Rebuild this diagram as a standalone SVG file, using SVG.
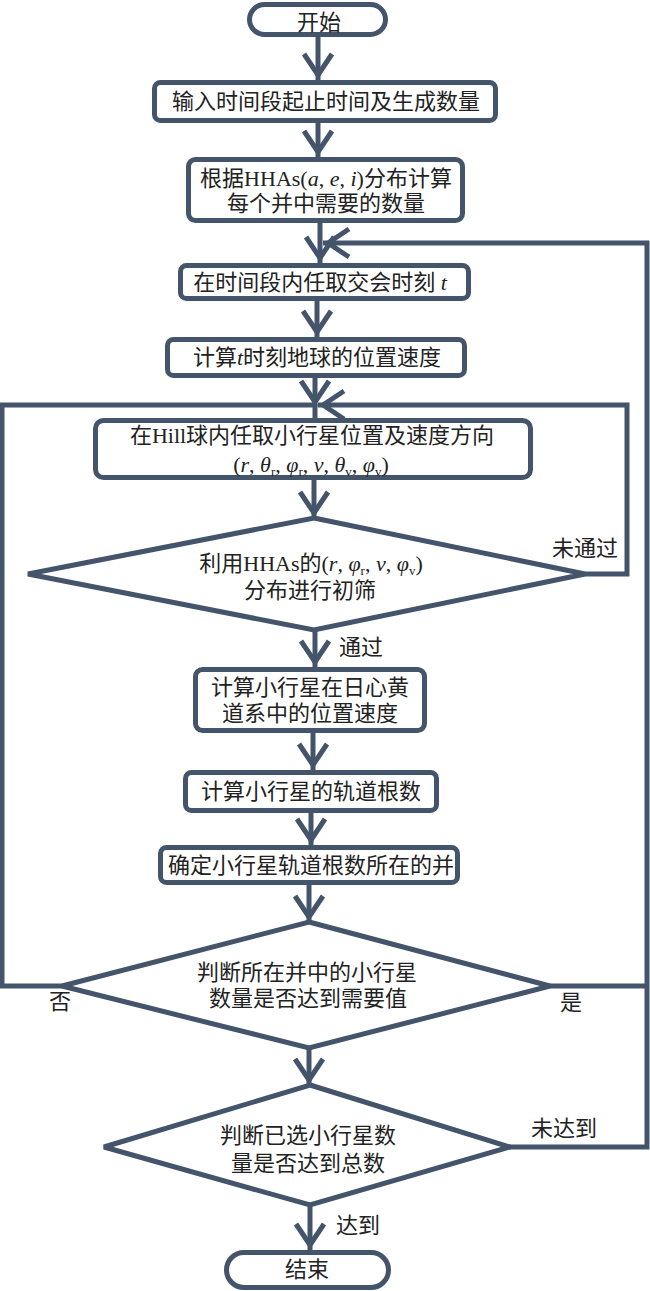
<svg xmlns="http://www.w3.org/2000/svg" width="650" height="1291" viewBox="0 0 650 1291">
<defs>
<style>
.n { fill:#fff; stroke:#44546A; stroke-width:5; }
.d { fill:#fff; stroke:#44546A; stroke-width:5; stroke-linejoin:miter; stroke-miterlimit:3; }
.c { fill:none; stroke:#44546A; stroke-width:5; }
.ca { fill:none; stroke:#44546A; stroke-width:5; marker-end:url(#ah); }
.t { font-family:"Liberation Serif","Noto Sans CJK SC",serif; font-size:22px; font-weight:normal; fill:#222; text-anchor:middle; }
.i { font-style:italic; }
.s { font-size:13px; }
</style>
<marker id="ah" markerUnits="userSpaceOnUse" orient="auto" refX="0" refY="0" markerWidth="40" markerHeight="40" viewBox="-30 -20 40 40" overflow="visible">
<path d="M-26,-14 L-5,0 L-26,14" fill="none" stroke="#44546A" stroke-width="5" stroke-linejoin="miter"/>
</marker>
</defs>
<rect width="650" height="1291" fill="#fff"/>

<g id="connectors">
<path class="ca" d="M318,37 V80"/>
<path class="ca" d="M318,123 V157"/>
<path class="ca" d="M320,223 V263"/>
<path class="ca" d="M510,1147 H647 V243 H323"/>
<path class="c" d="M550,986 H647"/>
<path class="ca" d="M317,301 V337"/>
<path class="ca" d="M315,378 V407"/>
<path class="c" d="M315,404 V418"/>
<path class="ca" d="M585,574 H627 V405 H318"/>
<path class="c" d="M62,986 H2 V405 H315"/>
<path class="ca" d="M314,480 V518"/>
<path class="ca" d="M315,630 V667"/>
<path class="ca" d="M313,733 V770"/>
<path class="ca" d="M311,813 V845"/>
<path class="ca" d="M309,885 V922"/>
<path class="ca" d="M309,1048 V1085"/>
<path class="ca" d="M310,1205 V1250"/>
</g>

<g id="start">
<rect class="n" x="249.5" y="4.5" width="136" height="30" rx="15"/>
<text class="t" x="319" y="30">开始</text>
</g>

<g id="input">
<rect class="n" x="154.5" y="82.5" width="341" height="38" rx="6"/>
<text class="t" x="326" y="109">输入时间段起止时间及生成数量</text>
</g>

<g id="calc-count">
<rect class="n" x="188.5" y="159.5" width="274" height="61" rx="7"/>
<text class="t" x="326" y="186">根据HHAs(<tspan class="i">a</tspan>, <tspan class="i">e</tspan>, <tspan class="i">i</tspan>)分布计算</text>
<text class="t" x="326" y="211">每个并中需要的数量</text>
</g>

<g id="pick-time">
<rect class="n" x="180.5" y="265.5" width="288" height="33" rx="6"/>
<text class="t" x="320" y="290">在时间段内任取交会时刻 <tspan class="i">t</tspan></text>
</g>

<g id="earth-state">
<rect class="n" x="167.5" y="339.5" width="297" height="36" rx="6"/>
<text class="t" x="317" y="365">计算<tspan class="i">t</tspan>时刻地球的位置速度</text>
</g>

<g id="pick-asteroid">
<rect class="n" x="95.5" y="420.5" width="435" height="57" rx="8"/>
<text class="t" x="312" y="443">在Hill球内任取小行星位置及速度方向</text>
<text class="t" x="311" y="472">(<tspan class="i">r</tspan>, <tspan class="i">θ</tspan><tspan class="s" dy="4">r</tspan><tspan dy="-4">, </tspan><tspan class="i">φ</tspan><tspan class="s" dy="4">r</tspan><tspan dy="-4">, </tspan><tspan class="i">v</tspan>, <tspan class="i">θ</tspan><tspan class="s" dy="4">v</tspan><tspan dy="-4">, </tspan><tspan class="i">φ</tspan><tspan class="s" dy="4">v</tspan><tspan dy="-4">)</tspan></text>
</g>

<g id="prefilter">
<polygon class="d" points="314,518 585,574 314,630 28,574"/>
<text class="t" x="311" y="571">利用HHAs的(<tspan class="i">r</tspan>, <tspan class="i">φ</tspan><tspan class="s" dy="4">r</tspan><tspan dy="-4">, </tspan><tspan class="i">v</tspan>, <tspan class="i">φ</tspan><tspan class="s" dy="4">v</tspan><tspan dy="-4">)</tspan></text>
<text class="t" x="310" y="598">分布进行初筛</text>
</g>

<g id="helio-state">
<rect class="n" x="195.5" y="669.5" width="229" height="61" rx="7"/>
<text class="t" x="310" y="695">计算小行星在日心黄</text>
<text class="t" x="310" y="721">道系中的位置速度</text>
</g>

<g id="orbit-elements">
<rect class="n" x="185.5" y="772.5" width="251" height="38" rx="6"/>
<text class="t" x="311" y="799">计算小行星的轨道根数</text>
</g>

<g id="find-bin">
<rect class="n" x="160.5" y="847.5" width="297" height="35" rx="6"/>
<text class="t" x="311" y="873">确定小行星轨道根数所在的并</text>
</g>

<g id="bin-check">
<polygon class="d" points="309,922 550,986 309,1048 62,986"/>
<text class="t" x="307" y="980">判断所在并中的小行星</text>
<text class="t" x="308" y="1006">数量是否达到需要值</text>
</g>

<g id="total-check">
<polygon class="d" points="310,1085 510,1147 310,1205 104,1147"/>
<text class="t" x="308" y="1143">判断已选小行星数</text>
<text class="t" x="308" y="1171">量是否达到总数</text>
</g>

<g id="end">
<rect class="n" x="226.5" y="1252.5" width="162" height="35" rx="17.5"/>
<text class="t" x="307" y="1277">结束</text>
</g>

<g id="labels">
<text class="t" x="585" y="556">未通过</text>
<text class="t" x="361" y="655">通过</text>
<text class="t" x="60" y="1009">否</text>
<text class="t" x="571" y="1010">是</text>
<text class="t" x="564" y="1136">未达到</text>
<text class="t" x="358" y="1233">达到</text>
</g>
</svg>
